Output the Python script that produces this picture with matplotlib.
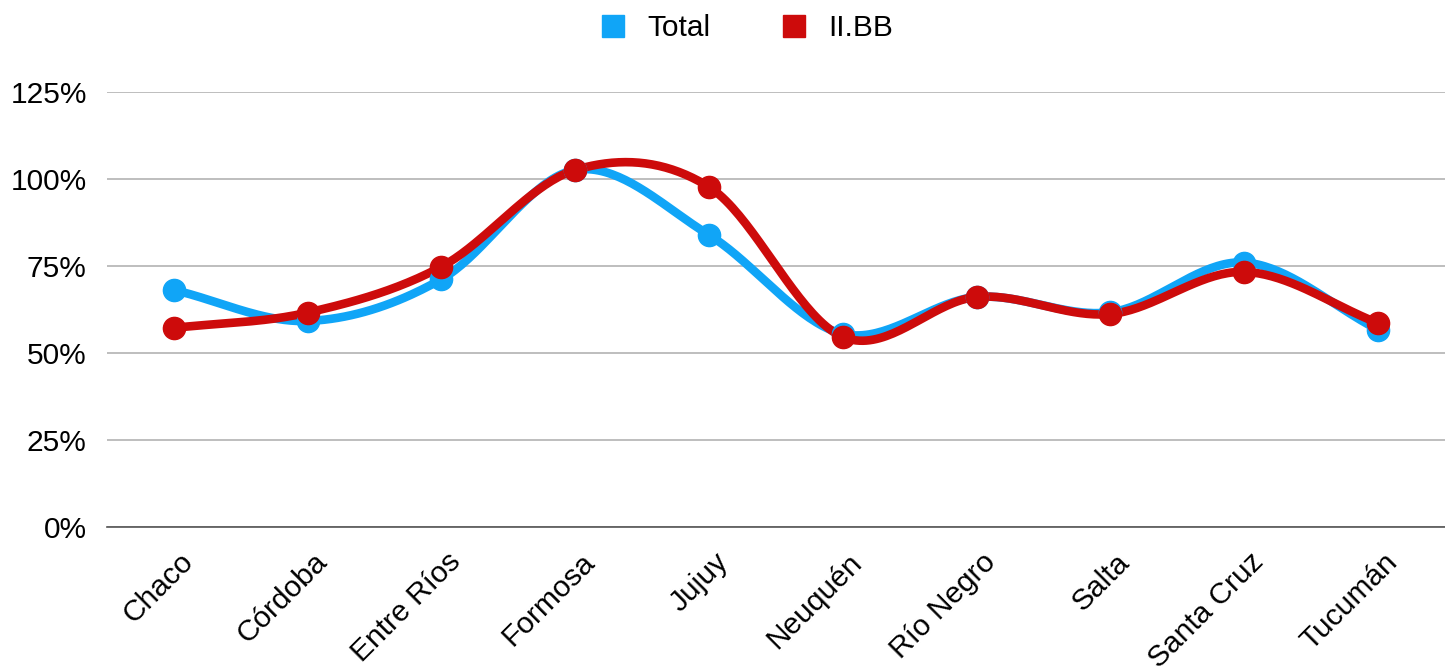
import numpy as np
import matplotlib.pyplot as plt
import matplotlib.transforms as mtransforms
from matplotlib.lines import Line2D

plt.rcParams['font.family'] = ['Liberation Sans', 'DejaVu Sans']

provincias = ["Chaco", "Córdoba", "Entre Ríos", "Formosa", "Jujuy",
              "Neuquén", "Río Negro", "Salta", "Santa Cruz", "Tucumán"]
total = [68.1, 59.2, 71.2, 102.6, 83.9, 55.5, 66.1, 61.7, 76.0, 56.7]
iibb = [57.2, 61.6, 74.8, 102.6, 97.7, 54.6, 66.1, 61.2, 73.3, 58.6]

y_ticks = [0, 25, 50, 75, 100, 125]

azul = "#10a5f7"
rojo = "#cd0b0b"


def catmull_rom(x, y, n=40):
    # smooth curve through the points (Catmull-Rom tangents)
    x = np.asarray(x, float)
    y = np.asarray(y, float)
    k = len(y)
    m = np.zeros(k)
    m[1:-1] = (y[2:] - y[:-2]) / 2
    m[0] = y[1] - y[0]
    m[-1] = y[-1] - y[-2]
    xs, ys = [], []
    for i in range(k - 1):
        t = np.linspace(0, 1, n, endpoint=(i == k - 2))
        h00 = 2 * t**3 - 3 * t**2 + 1
        h10 = t**3 - 2 * t**2 + t
        h01 = -2 * t**3 + 3 * t**2
        h11 = t**3 - t**2
        xs.append(x[i] + t * (x[i + 1] - x[i]))
        ys.append(h00 * y[i] + h10 * m[i] + h01 * y[i + 1] + h11 * m[i + 1])
    return np.concatenate(xs), np.concatenate(ys)


fig = plt.figure(figsize=(14.45, 6.66), dpi=100)
ax = fig.add_axes([0.074, 0.2087, 0.926, 0.6532])

x = np.arange(len(provincias))
for serie, color in [(total, azul), (iibb, rojo)]:
    xs, ys = catmull_rom(x, serie)
    ax.plot(xs, ys, color=color, lw=6.2, solid_capstyle='round', zorder=3)
    ax.plot(x, serie, 'o', color=color, ms=16, zorder=4)

ax.set_xlim(-0.5, len(provincias) - 0.5)
ax.set_ylim(0, 125)
ax.set_yticks(y_ticks)
ax.set_yticklabels([f"{v}%" for v in y_ticks], fontsize=21.5)
ax.set_xticks(x)
ax.set_xticklabels(provincias, rotation=45, ha='right', rotation_mode='anchor', fontsize=21.5)
ax.tick_params(axis='y', length=0, pad=14.5)
ax.tick_params(axis='x', length=0, pad=15)
# nudge rotated labels a little to the right, like the original
shift = mtransforms.ScaledTranslation(5 / 100, 0, fig.dpi_scale_trans)
for lab in ax.get_xticklabels():
    lab.set_transform(lab.get_transform() + shift)
ax.grid(axis='y', color='#b3b3b3', lw=1.2)
ax.set_axisbelow(True)
for s in ['top', 'right', 'left']:
    ax.spines[s].set_visible(False)
ax.spines['bottom'].set_color('#555555')
ax.spines['bottom'].set_linewidth(1.2)
ax.spines['bottom'].set_zorder(2)

handles = [Line2D([], [], marker='s', ls='', color=azul, ms=16),
           Line2D([], [], marker='s', ls='', color=rojo, ms=16)]
fig.legend(handles, ["Total", "II.BB"], loc='center', bbox_to_anchor=(0.511, 0.958),
           ncol=2, frameon=False, fontsize=21.5, handletextpad=0.15, columnspacing=1.8)

fig.savefig("out.png", dpi=100)
